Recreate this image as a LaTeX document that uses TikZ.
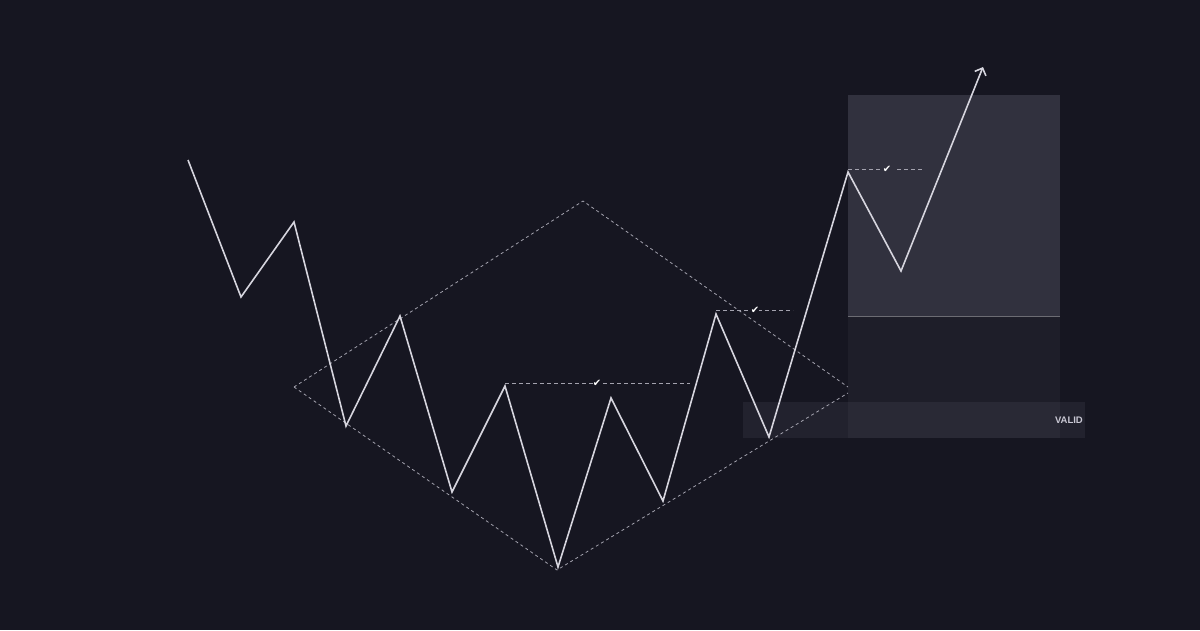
\documentclass[tikz,border=0pt]{standalone}
\usepackage{fontspec}
\newfontfamily\dejavu{DejaVu Sans}
\newfontfamily\lsans{Liberation Sans}
\usetikzlibrary{arrows.meta}
\definecolor{bg}{HTML}{161621}
\definecolor{tint}{HTML}{D0D0E8}
\definecolor{price}{HTML}{D6D5DE}
\definecolor{guide}{HTML}{A3A2AE}
\definecolor{txt}{HTML}{C9C8D4}
\tikzset{
  pricepath/.style={draw=price,line width=1.6pt,line join=miter},
  trendline/.style={draw=guide,line width=0.8pt,dash pattern=on 3pt off 3pt},
  levelline/.style={draw=guide,line width=0.9pt,dash pattern=on 4pt off 3pt},
  checkmark/.style={text=white,font=\dejavu\fontsize{10}{10}\selectfont,inner sep=0pt,fill=bg},
  checkmarkin/.style={text=white,font=\dejavu\fontsize{10}{10}\selectfont,inner sep=0pt},
  pt/.style={coordinate}
}
\begin{document}
\begin{tikzpicture}[x=1pt,y=-1pt]
\useasboundingbox (0,0) rectangle (1200,630);
\fill[bg] (0,0) rectangle (1200,630);
% zones
\fill[tint,opacity=0.15] (848,95) rectangle (1060,316);
\fill[tint,opacity=0.045] (848,316) rectangle (1060,438);
\draw[white,opacity=0.35,line width=0.8pt] (848,316) -- (1060,316);
\fill[tint,opacity=0.065] (743,402) rectangle (1085,438);
\node[anchor=east,text=txt,font=\lsans\bfseries\fontsize{9.5}{9.5}\selectfont,inner sep=0pt] (valid) at (1083,420) {VALID};
% diamond
\coordinate (dl) at (294,387);
\coordinate (dt) at (583,201);
\coordinate (dr1) at (848,387);
\coordinate (dr2) at (848,393);
\coordinate (db) at (557,570);
\draw[trendline] (dl) -- (dt) -- (dr1);
\draw[trendline] (dl) -- (db) -- (dr2);
% levels
\coordinate (l1a) at (505,383); \coordinate (l1b) at (690,383);
\coordinate (l2a) at (716,310); \coordinate (l2b) at (793,310);
\coordinate (l3a) at (848,169); \coordinate (l3b) at (924,169);
\draw[levelline] (l1a) -- (l1b);
\draw[levelline] (l2a) -- (l2b);
\draw[levelline] (l3a) -- (l3b);
\node[checkmark] (c1) at (597,383) {✔};
\node[checkmark] (c2) at (755,310) {✔};
\fill[bg] (880,163) rectangle (894,175);
\fill[tint,opacity=0.15] (880,163) rectangle (894,175);
\node[checkmarkin] (c3) at (887,169) {✔};
% price path
\coordinate (p1) at (188,160);
\coordinate (p2) at (241,297);
\coordinate (p3) at (294,222);
\coordinate (p4) at (346,426);
\coordinate (p5) at (400,316);
\coordinate (p6) at (452,492);
\coordinate (p7) at (505,386);
\coordinate (p8) at (558,567);
\coordinate (p9) at (611,398);
\coordinate (p10) at (663,501);
\coordinate (p11) at (716,314);
\coordinate (p12) at (769,437);
\coordinate (p13) at (848,172);
\coordinate (p14) at (901,271);
\coordinate (p15) at (983,67);
\draw[pricepath,-{Straight Barb[length=6pt,width=12pt,line width=1.6pt]}] (p1) -- (p2) -- (p3) -- (p4) -- (p5) -- (p6) -- (p7) -- (p8) -- (p9) -- (p10) -- (p11) -- (p12) -- (p13) -- (p14) -- (p15);
\end{tikzpicture}
\end{document}
